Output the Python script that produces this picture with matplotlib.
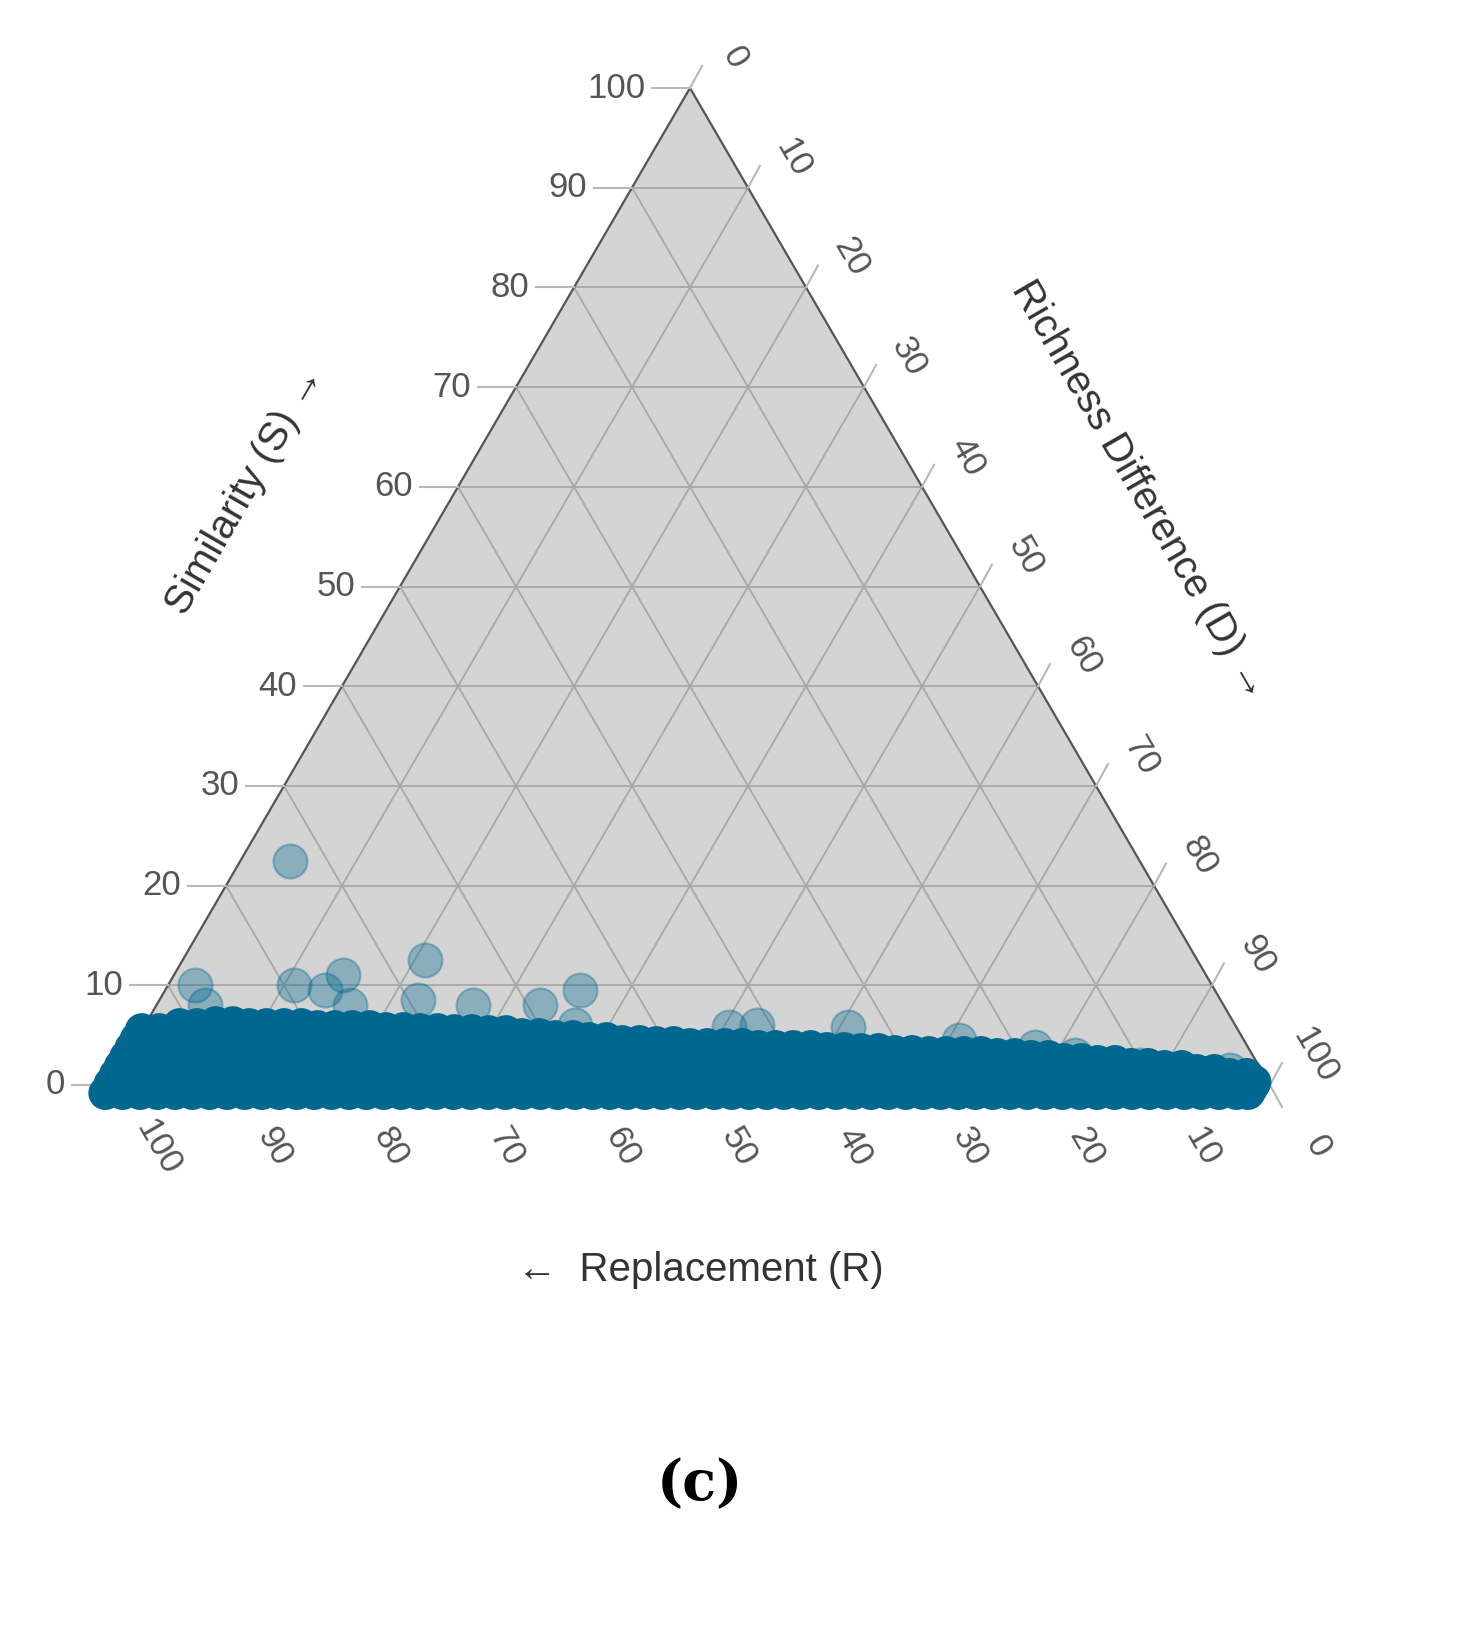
import matplotlib.pyplot as plt
import numpy as np

plt.rcParams['font.family'] = ['Liberation Sans', 'DejaVu Sans']

# triangle geometry in pixels
X_BL, X_BR, Y_B, Y_T = 110.0, 1270.0, 1085.0, 88.0
W = X_BR - X_BL
H = Y_B - Y_T

ticks = [0, 10, 20, 30, 40, 50, 60, 70, 80, 90, 100]

# scattered points above the main band (S, D)
out_s = [22.5, 10, 8, 10, 11, 9.5, 8, 12.5, 8.5, 8, 8, 9.5, 6, 5.8, 6, 5.8, 4.5, 3.8, 3, 2, 1.5]
out_d = [4.3, 2.3, 4.2, 10.9, 14.6, 13.8, 16.7, 20.9, 22.3, 27.3, 33.1, 35.8, 37.1, 50.5, 52.8, 60.7, 70.9, 77.8, 81.7, 87.8, 95.8]

# dense band: upper edge of S for each D column
band_d = [0, 3, 6, 9, 12, 15, 18, 21, 24, 27, 30, 33, 36, 39, 42, 45, 48, 51, 54, 57,
          60, 63, 66, 69, 72, 75, 78, 81, 84, 87, 90, 93, 96, 98.5]
band_top = [5.5, 6.0, 6.2, 6.0, 6.0, 5.8, 5.8, 5.6, 5.5, 5.4, 5.3, 5.0, 4.8, 4.6, 4.3, 4.2, 4.0, 4.0, 3.8,
            3.8, 3.6, 3.5, 3.3, 3.2, 3.2, 3.0, 2.8, 2.5, 2.3, 2.0, 1.8, 1.4, 1.0, 0.3]


def xy(s, d):
    s = np.asarray(s, float)
    d = np.asarray(d, float)
    return X_BL + (d + s / 2) / 100 * W, Y_B - s / 100 * H


fig = plt.figure(figsize=(14.72, 16.47), dpi=100)
ax = fig.add_axes([0, 0, 1, 1])
ax.set_xlim(0, 1472)
ax.set_ylim(1647, 0)
ax.axis('off')

ax.fill([X_BL, X_BR, (X_BL + X_BR) / 2], [Y_B, Y_B, Y_T], color='#d4d4d4', zorder=0)

grid_c = '#a8a8a8'
tick_c = '#b8b8b8'
lab_c = '#555555'
for t in ticks[1:-1]:
    # S = const
    x0, y0 = xy(t, 0)
    x1, y1 = xy(t, 100 - t)
    ax.plot([x0, x1], [y0, y1], color=grid_c, lw=1.3, zorder=1)
    # D = const
    x0, y0 = xy(0, t)
    x1, y1 = xy(100 - t, t)
    ax.plot([x0, x1], [y0, y1], color=grid_c, lw=1.3, zorder=1)
    # R = const
    x0, y0 = xy(0, 100 - t)
    x1, y1 = xy(100 - t, 0)
    ax.plot([x0, x1], [y0, y1], color=grid_c, lw=1.3, zorder=1)

ax.plot([X_BL, X_BR, (X_BL + X_BR) / 2, X_BL], [Y_B, Y_B, Y_T, Y_B], color='#555555', lw=1.6, zorder=2)

fs = 25
for t in ticks:
    # S axis on left edge
    x, y = xy(t, 0)
    ax.plot([x - 38, x], [y, y], color=tick_c, lw=1.5)
    ax.text(x - 45, y, str(t), ha='right', va='center', fontsize=fs, color=lab_c)
    # D axis on right edge
    x, y = xy(100 - t, t)
    ax.plot([x, x + 12], [y, y - 22], color=tick_c, lw=1.5)
    ax.text(x + 45, y - 30, str(t), ha='center', va='center', fontsize=fs, color=lab_c, rotation=-60)
    # R axis on bottom edge
    x, y = xy(0, 100 - t)
    ax.plot([x, x + 12], [y, y + 22], color=tick_c, lw=1.5)
    ax.text(x + 48, y + 62, str(t), ha='center', va='center', fontsize=fs, color=lab_c, rotation=-60)

pt_c = '#006890'
for d, top in zip(band_d, band_top):
    for dd in (d, d + 1.5):
        if dd > 99.5 - top:
            continue
        ss = np.linspace(-0.8, top, 8)
        bx, by = xy(ss, np.full_like(ss, dd))
        ax.scatter(bx, by, s=600, color=pt_c, edgecolors='none', zorder=3)
ox, oy = xy(out_s, out_d)
ax.scatter(ox, oy, s=600, color=pt_c, alpha=0.35, edgecolors=pt_c, lw=1.5, zorder=4)

ax.text(245, 490, 'Similarity (S) \u2192', rotation=60, ha='center', va='center', fontsize=29, color='#333333')
ax.text(1140, 490, 'Richness Difference (D) \u2192', rotation=-60, ha='center', va='center', fontsize=29, color='#333333')
ax.text(700, 1270, '\u2190  Replacement (R)', ha='center', va='center', fontsize=29, color='#333333')
ax.text(700, 1485, '(c)', ha='center', va='center', fontsize=40, family='DejaVu Serif', fontweight='bold')

fig.savefig('out.png', dpi=100)
